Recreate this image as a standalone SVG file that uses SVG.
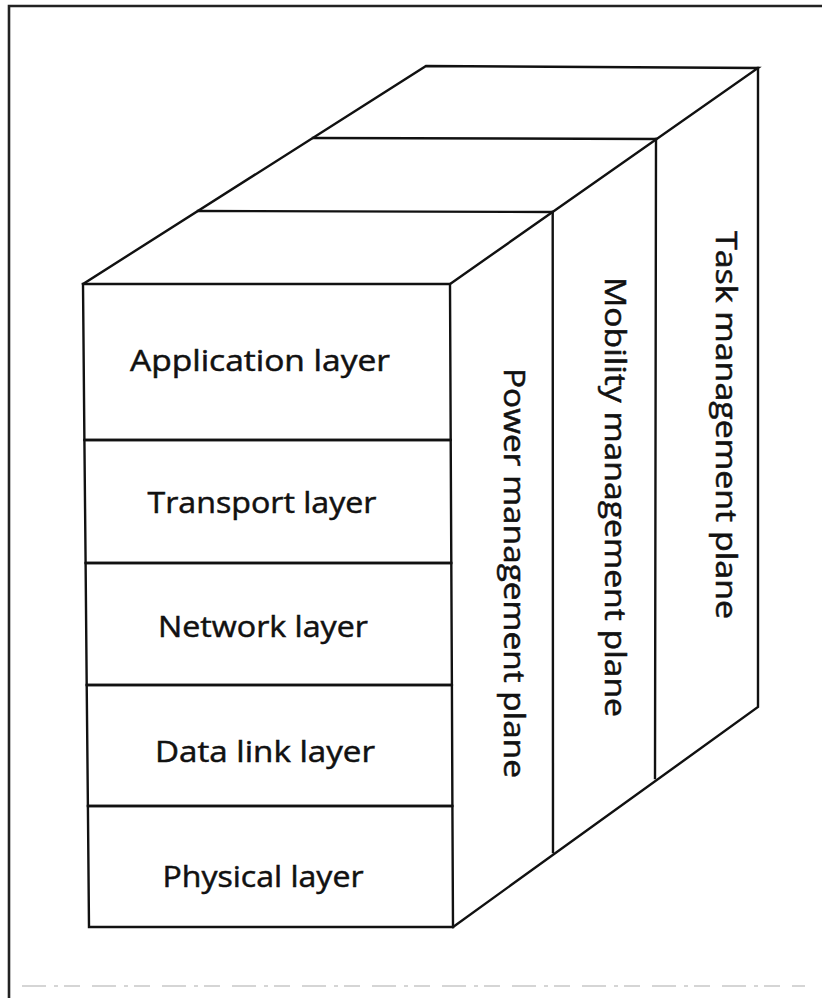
<svg xmlns="http://www.w3.org/2000/svg" width="822" height="998" viewBox="0 0 822 998">
  <style>
    .edge { fill: none; stroke: #111; stroke-width: 2.4; stroke-linejoin: miter; stroke-linecap: square; }
    .frame { fill: none; stroke: #222; stroke-width: 2.6; }
    .layer { font-family: "Open Sans", "Liberation Sans", sans-serif; font-size: 29px; fill: #111; stroke: #111; stroke-width: 0.5; text-anchor: middle; }
    .plane { font-family: "Open Sans", "Liberation Sans", sans-serif; font-size: 29px; fill: #111; stroke: #111; stroke-width: 0.5; text-anchor: middle; }
  </style>
  <rect width="822" height="998" fill="#fff"/>

  <!-- page frame -->
  <g id="frame">
    <path class="frame" d="M9 998 V6 H822"/>
    <path d="M22 986 H805" fill="none" stroke="#c8c8c8" stroke-width="1.6" stroke-dasharray="24 8 4 6 16 12"/>
  </g>

  <!-- protocol stack block: top and side outlines -->
  <g id="block">
    <path class="edge" d="M83 284 L426 66 L758 68 L450 284"/>
    <path class="edge" d="M198 211 L552.7 212"/>
    <path class="edge" d="M313 138 L656 139"/>
    <path class="edge" d="M758 68 L758 707 L453 927"/>
    <path class="edge" d="M552.7 212 L553 852"/>
    <path class="edge" d="M656 139 L655 778"/>
  </g>

  <!-- layers on the front face -->
  <g id="application-layer">
    <path class="edge" d="M83 284 H450 L450.7 440 H84.4 Z"/>
    <text class="layer" x="260" y="371" textLength="260" lengthAdjust="spacingAndGlyphs">Application layer</text>
  </g>
  <g id="transport-layer">
    <path class="edge" d="M84.4 440 H450.7 L451.3 563 H85.6 Z"/>
    <text class="layer" x="262" y="513" textLength="229" lengthAdjust="spacingAndGlyphs">Transport layer</text>
  </g>
  <g id="network-layer">
    <path class="edge" d="M85.6 563 H451.3 L451.9 685 H86.7 Z"/>
    <text class="layer" x="263" y="637" textLength="210" lengthAdjust="spacingAndGlyphs">Network layer</text>
  </g>
  <g id="data-link-layer">
    <path class="edge" d="M86.7 685 H451.9 L452.4 806 H87.9 Z"/>
    <text class="layer" x="265" y="762" textLength="220" lengthAdjust="spacingAndGlyphs">Data link layer</text>
  </g>
  <g id="physical-layer">
    <path class="edge" d="M87.9 806 H452.4 L453 927 H89 Z"/>
    <text class="layer" x="263" y="887" textLength="201" lengthAdjust="spacingAndGlyphs">Physical layer</text>
  </g>

  <!-- management planes on the side face -->
  <g id="power-management-plane">
    <text class="plane" transform="translate(504 573) rotate(90)" textLength="410" lengthAdjust="spacingAndGlyphs">Power management plane</text>
  </g>
  <g id="mobility-management-plane">
    <text class="plane" transform="translate(605 497) rotate(90)" textLength="440" lengthAdjust="spacingAndGlyphs">Mobility management plane</text>
  </g>
  <g id="task-management-plane">
    <text class="plane" transform="translate(716 425) rotate(90)" textLength="388" lengthAdjust="spacingAndGlyphs">Task management plane</text>
  </g>
</svg>
